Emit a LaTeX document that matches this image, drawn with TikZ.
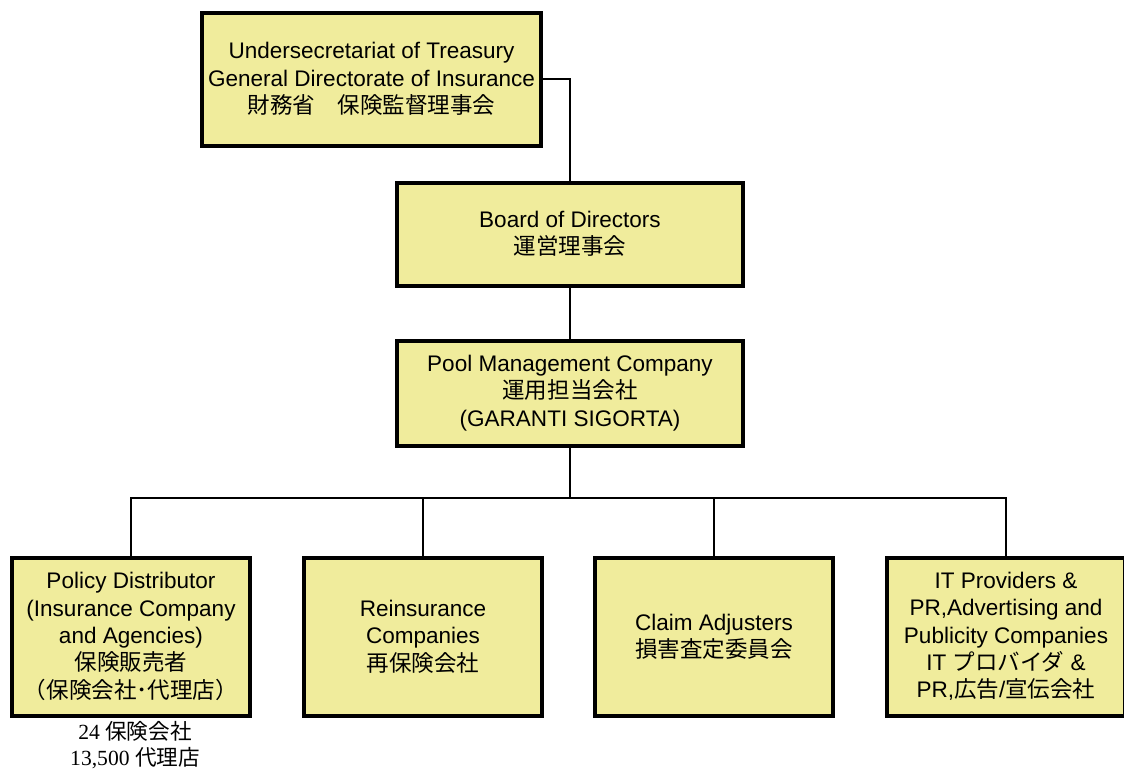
\documentclass[tikz,border=0pt]{standalone}
\usepackage{fontspec}
\setmainfont{Liberation Sans}
\newfontfamily\ja{Noto Sans CJK JP}
\newfontfamily\tnr{Liberation Serif}
\definecolor{boxfill}{RGB}{240,236,156}
\tikzset{
  orgbox/.style={draw=black, line width=3pt, fill=boxfill, align=center,
    inner sep=0pt, font=\fontsize{16.9}{20.5}\selectfont},
  conn/.style={draw=black, line width=2.2pt},
  note/.style={align=center, inner sep=0pt, font=\tnr\fontsize{16.2}{20}\selectfont}
}
\begin{document}
\begin{tikzpicture}[x=0.75pt,y=-0.75pt]
\useasboundingbox (0,0) rectangle (1124,771);
\begin{scope}
\clip (0,0) rectangle (1124,771);
\node[orgbox, minimum width=254.25pt, minimum height=99.75pt] (top) at (371.5,79)
  {Undersecretariat of Treasury\\General Directorate of Insurance\\{\ja 財務省　保険監督理事会}};
\node[orgbox, minimum width=259.5pt, minimum height=77.25pt] (board) at (570,234)
  {Board of Directors\\{\ja 運営理事会}};
\node[orgbox, minimum width=259.5pt, minimum height=78.75pt] (pool) at (570,393)
  {Pool Management Company\\{\ja 運用担当会社}\\(GARANTI SIGORTA)};
\node[orgbox, minimum width=178.5pt, minimum height=118.5pt] (b1) at (131,636.5)
  {Policy Distributor\\(Insurance Company\\and Agencies)\\{\ja 保険販売者}\\{\ja （保険会社･代理店）}};
\node[orgbox, minimum width=178.5pt, minimum height=118.5pt] (b2) at (423,636.5)
  {Reinsurance\\Companies\\{\ja 再保険会社}};
\node[orgbox, minimum width=178.5pt, minimum height=118.5pt] (b3) at (714,636.5)
  {Claim Adjusters\\{\ja 損害査定委員会}};
\node[orgbox, minimum width=178.5pt, minimum height=118.5pt] (b4) at (1006,636.5)
  {IT Providers \&\\PR,Advertising and\\Publicity Companies\\IT {\ja プロバイダ} \&\\PR,{\ja 広告}/{\ja 宣伝会社}};
\coordinate (bus) at (570,498);
\draw[conn] (top.east) -| (board.north);
\draw[conn] (board.south) -- (pool.north);
\draw[conn] (pool.south) -- (bus);
\draw[conn] (b1.north) |- (bus) -| (b4.north);
\draw[conn] (b2.north) -- (b2.north |- bus);
\draw[conn] (b3.north) -- (b3.north |- bus);
\node[note] (n1) at (135,745) {24 {\ja 保険会社}\\13,500 {\ja 代理店}};
\end{scope}
\end{tikzpicture}
\end{document}
